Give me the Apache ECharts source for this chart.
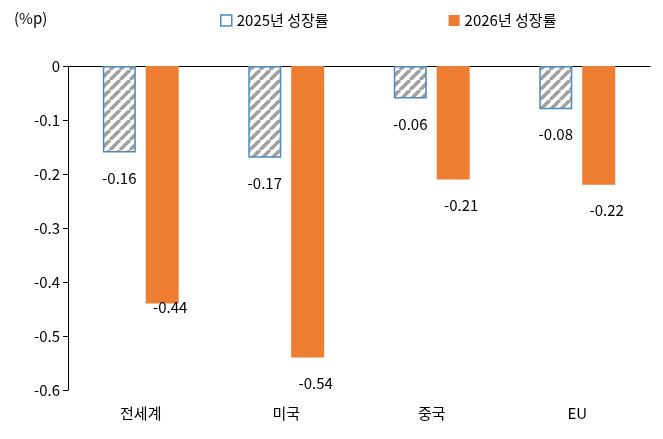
<!DOCTYPE html><html><head><meta charset="utf-8"><script src="https://cdn.jsdelivr.net/npm/echarts@6/dist/echarts.min.js"></script></head><body style="margin:0"><div id="c" style="width:663px;height:439px"></div><script>
const categories=['전세계','미국','중국','EU'];
const s2025=[-0.16,-0.17,-0.06,-0.08];
const s2026=[-0.44,-0.54,-0.21,-0.22];
const names=['2025년 성장률','2026년 성장률'];
const cv=document.createElement('canvas');cv.width=10;cv.height=10;const g=cv.getContext('2d');
g.fillStyle='#fff';g.fillRect(0,0,10,10);g.strokeStyle='#a0a0a0';g.lineWidth=3.5;
for(let k=-10;k<=20;k+=10){g.beginPath();g.moveTo(k,10);g.lineTo(k+10,0);g.stroke();}
const F='Noto Sans CJK KR';
const ch=echarts.init(document.getElementById('c'));
ch.setOption({animation:false,textStyle:{fontFamily:F},
grid:{left:68,right:13,top:66,bottom:49},
legend:{top:8,left:215,itemGap:120,itemWidth:11,itemHeight:11,textStyle:{fontSize:15,color:'#000',fontFamily:F},
data:[{name:names[0],icon:'rect',itemStyle:{color:'#fff',borderColor:'#4a8bc2',borderWidth:1.5}},{name:names[1],icon:'rect'}]},
graphic:[{type:'text',left:14,top:11,style:{text:'(%p)',fontSize:15,fontFamily:F,fill:'#000'}}],
xAxis:[{type:'category',data:categories,position:'bottom',axisLine:{show:false,onZero:false},axisTick:{show:false},axisLabel:{fontSize:15,color:'#000',margin:16}},
{type:'category',data:categories,position:'top',axisLine:{lineStyle:{color:'#000'}},axisTick:{show:false},axisLabel:{show:false}}],
yAxis:{type:'value',min:-0.6,max:0,interval:0.1,splitLine:{show:false},axisLine:{show:true,lineStyle:{color:'#000'}},axisTick:{show:true,length:5},
axisLabel:{fontSize:15,color:'#000',formatter:v=>v===0?'0':v.toFixed(1)}},
series:[{name:names[0],type:'bar',barWidth:33,barGap:'30%',data:s2025,itemStyle:{color:{image:cv,repeat:'repeat'},borderColor:'#4a8bc2',borderWidth:1.5},
label:{show:true,position:'bottom',distance:18,fontSize:15,color:'#000',fontFamily:F}},
{name:names[1],type:'bar',barWidth:33,data:s2026.map((v,i)=>i===0?{value:v,label:{offset:[8,-22]}}:{value:v,label:{offset:[8,0]}}),itemStyle:{color:'#ed7d31'},
label:{show:true,position:'bottom',distance:18,fontSize:15,color:'#000',fontFamily:F}}]});
</script></body></html>
